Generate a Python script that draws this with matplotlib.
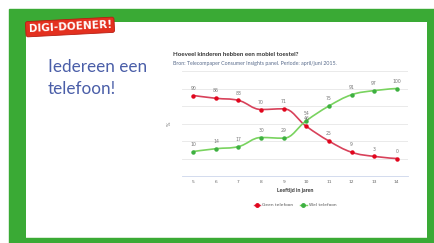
import matplotlib
matplotlib.use("Agg")
import matplotlib.pyplot as plt
from matplotlib.patches import Rectangle, PathPatch
from matplotlib.path import Path

# gegevens
leeftijd = [5, 6, 7, 8, 9, 10, 11, 12, 13, 14]
geen_telefoon = [90, 86, 83, 70, 71, 46, 25, 9, 3, 0]
wel_telefoon = [10, 14, 17, 30, 29, 54, 75, 91, 97, 100]
y_ticks = [-25, 0, 25, 50, 75, 100, 125]

RED_LINE = '#d8415a'
RED_DOT = '#e1061d'
GREEN_LINE = '#79d35f'
GREEN_DOT = '#3eb041'
FRAME = '#3aaa35'
BLUE = '#4a5ea8'


def spline_path(xs, ys, smoothing=1.5):
    """Spline zoals Highcharts die tekent (cubic bezier tussen de punten)."""
    denom = smoothing + 1
    verts = [(xs[0], ys[0])]
    codes = [Path.MOVETO]
    conts = []
    n = len(xs)
    for i in range(n):
        if i == 0 or i == n - 1:
            conts.append((xs[i], ys[i], xs[i], ys[i]))
            continue
        lx, ly = xs[i - 1], ys[i - 1]
        nx, ny = xs[i + 1], ys[i + 1]
        px, py = xs[i], ys[i]
        lcx = (smoothing * px + lx) / denom
        lcy = (smoothing * py + ly) / denom
        rcx = (smoothing * px + nx) / denom
        rcy = (smoothing * py + ny) / denom
        if rcy != lcy:
            corr = (rcy - lcy) * (rcx - px) / (rcx - lcx) + py - rcy
            lcy += corr
            rcy += corr
        if lcy > ly and lcy > py:
            lcy = max(ly, py)
            rcy = 2 * py - lcy
        elif lcy < ly and lcy < py:
            lcy = min(ly, py)
            rcy = 2 * py - lcy
        if rcy > ny and rcy > py:
            rcy = max(ny, py)
            lcy = 2 * py - rcy
        elif rcy < ny and rcy < py:
            rcy = min(ny, py)
            lcy = 2 * py - rcy
        conts.append((lcx, lcy, rcx, rcy))
    for i in range(1, n):
        verts += [(conts[i - 1][2], conts[i - 1][3]),
                  (conts[i][0], conts[i][1]),
                  (xs[i], ys[i])]
        codes += [Path.CURVE4] * 3
    return Path(verts, codes)


W, H = 435, 243
fig = plt.figure(figsize=(W / 100, H / 100), dpi=100)
fig.patch.set_facecolor('white')

# groene rand en witte kaart
fig.patches.append(Rectangle((9 / W, 0), (W - 9) / W, 1 - 9 / H,
                             transform=fig.transFigure, color=FRAME, zorder=0))
fig.patches.append(Rectangle((26.5 / W, 5 / H), 401 / W, 216 / H,
                             transform=fig.transFigure, facecolor='#d7ecd3',
                             edgecolor='none', zorder=0.5))
fig.patches.append(Rectangle((26 / W, 6 / H), 401 / W, 215 / H,
                             transform=fig.transFigure, facecolor='white',
                             edgecolor='none', zorder=1))

# badge
fig.text(70 / W, 1 - 27 / H, 'DIGI-DOENER!', color='white', fontsize=7.6,
         fontweight='heavy', family='DejaVu Sans', ha='center', va='center',
         rotation=3, zorder=5,
         bbox=dict(boxstyle='round,pad=0.25,rounding_size=0.2',
                   facecolor='#e3301f', edgecolor='#b81d12', linewidth=0.6))

fig.text(48 / W, 1 - 67 / H, 'Iedereen een', color=BLUE, fontsize=12.3,
         family='Lato', va='center', zorder=5)
fig.text(48 / W, 1 - 89 / H, 'telefoon!', color=BLUE, fontsize=12.3,
         family='Lato', va='center', zorder=5)

fig.text(173 / W, 1 - 55 / H, 'Hoeveel kinderen hebben een mobiel toestel?',
         color='#333333', fontsize=4.4, fontweight='bold', va='center',
         family='Lato', zorder=5)
fig.text(173 / W, 1 - 63 / H,
         'Bron: Telecompaper Consumer Insights panel. Periode: april/juni 2015.',
         color='#5a6c8c', fontsize=3.75, va='center', family='Lato', zorder=5)

ax = fig.add_axes([182 / W, 1 - 176 / H, 226 / W, 105 / H])
ax.set_zorder(3)
ax.patch.set_alpha(0)
ax.set_xlim(4.5, 14.5)
ax.set_ylim(y_ticks[0], y_ticks[-1])
ax.set_yticks(y_ticks)
ax.set_yticklabels([])
ax.grid(axis='y', color='#e6e6e6', linewidth=0.6)
ax.set_xticks(leeftijd)
ax.set_xticklabels([str(a) for a in leeftijd])
ax.tick_params(axis='x', length=0, labelsize=3.2, labelcolor='#666666', pad=3)
ax.tick_params(axis='y', length=0)
for s in ['top', 'left', 'right']:
    ax.spines[s].set_visible(False)
ax.spines['bottom'].set_color('#ccd6eb')
ax.spines['bottom'].set_linewidth(0.6)
ax.set_xlabel('Leeftijd in jaren', fontsize=3.8, color='#333333', labelpad=3,
              family='Lato', fontweight='bold')
ax.set_ylabel('%', fontsize=3.4, color='#666666', labelpad=4)

series = [(geen_telefoon, RED_LINE, RED_DOT, 'Geen telefoon'),
          (wel_telefoon, GREEN_LINE, GREEN_DOT, 'Wel telefoon')]
for vals, lc, dc, name in series:
    ax.add_patch(PathPatch(spline_path(leeftijd, vals), facecolor='none',
                           edgecolor=lc, linewidth=1.2, zorder=3))
    ax.plot(leeftijd, vals, linestyle='none', marker='o', markersize=2.2,
            color=dc, zorder=4)
    ax.plot([], [], color=lc, linewidth=1.0, marker='o', markersize=2.5,
            markerfacecolor=dc, markeredgecolor=dc, label=name)
    for x, v in zip(leeftijd, vals):
        ax.annotate(str(v), (x, v), xytext=(0, 3.5), textcoords='offset points',
                    ha='center', va='bottom', fontsize=3.3, color='#777777',
                    zorder=5)

leg = ax.legend(loc='upper center', bbox_to_anchor=(0.5, -0.22), ncol=2,
                frameon=False, fontsize=3.2, handlelength=1.4,
                handletextpad=0.5, columnspacing=1.6)
for t in leg.get_texts():
    t.set_color('#555555')

fig.savefig('out.png', dpi=100)
